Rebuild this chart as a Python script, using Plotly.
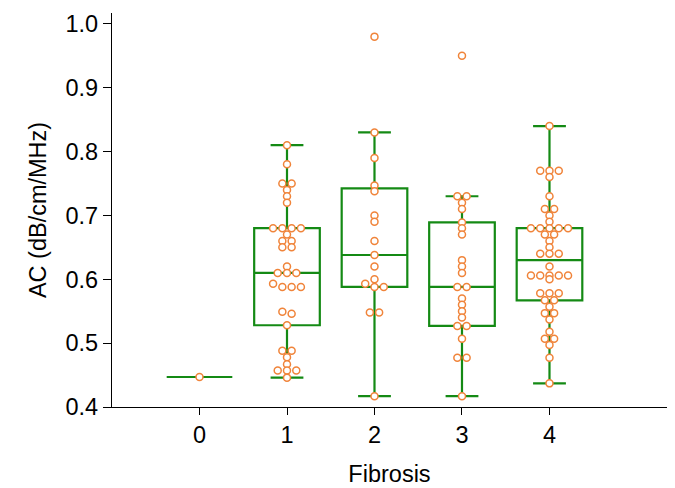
import numpy as np
import plotly.graph_objects as go

# ---- data ----
categories = [0, 1, 2, 3, 4]
tick_labels = ["0", "1", "2", "3", "4"]

fib0 = [0.447]
fib1 = [0.81, 0.78, 0.75, 0.75, 0.74, 0.73, 0.72,
        0.68, 0.68, 0.68, 0.68, 0.67, 0.66, 0.66, 0.65, 0.65,
        0.62, 0.61, 0.61, 0.61, 0.593, 0.588, 0.588, 0.588,
        0.549, 0.546, 0.528, 0.488, 0.488, 0.478, 0.467,
        0.457, 0.457, 0.457, 0.446]
fib2 = [0.98, 0.83, 0.79, 0.747, 0.738, 0.70, 0.69, 0.66, 0.638, 0.62,
        0.60, 0.593, 0.588, 0.588, 0.548, 0.548, 0.417]
fib3 = [0.95, 0.73, 0.73, 0.72, 0.71, 0.689, 0.68, 0.67, 0.63, 0.62, 0.61,
        0.588, 0.588, 0.57, 0.56, 0.55, 0.54, 0.527, 0.527, 0.507,
        0.477, 0.477, 0.417]
fib4 = [0.84, 0.77, 0.77, 0.77, 0.76, 0.73, 0.71, 0.71, 0.70, 0.69,
        0.68, 0.68, 0.68, 0.68, 0.68, 0.67, 0.67, 0.66, 0.65,
        0.64, 0.64, 0.64, 0.62, 0.606, 0.606, 0.606, 0.606, 0.606,
        0.60, 0.578, 0.578, 0.578, 0.567, 0.567, 0.557, 0.547, 0.547,
        0.537, 0.518, 0.507, 0.507, 0.497, 0.477, 0.437]
groups = [fib0, fib1, fib2, fib3, fib4]

y_ticks = [0.4, 0.5, 0.6, 0.7, 0.8, 0.9, 1.0]
y_tick_labels = ["0.4", "0.5", "0.6", "0.7", "0.8", "0.9", "1.0"]

# ---- style ----
GREEN = "#148A14"
ORANGE = "#F0843A"
FONT = "Liberation Sans, Arial, Helvetica, sans-serif"
FS = 23.5
BOX_W = 0.75
DOT_STEP = 0.106  # horizontal spread for tied values (category units)


def box_stats(values):
    a = np.sort(np.asarray(values, dtype=float))
    q1, med, q3 = np.percentile(a, [25, 50, 75], method="weibull")
    iqr = q3 - q1
    lo = a[a >= q1 - 1.5 * iqr].min()
    hi = a[a <= q3 + 1.5 * iqr].max()
    return q1, med, q3, lo, hi


def spread(values):
    bins = {}
    for i, v in enumerate(values):
        bins.setdefault(int(round(v * 100)), []).append(i)
    off = [0.0] * len(values)
    for idx in bins.values():
        k = len(idx)
        for j, i in enumerate(idx):
            off[i] = (j - (k - 1) / 2) * DOT_STEP
    return off


fig = go.Figure()
for cat, vals in zip(categories, groups):
    q1, med, q3, lo, hi = box_stats(vals)
    fig.add_trace(go.Box(
        x=[cat], q1=[q1], median=[med], q3=[q3],
        lowerfence=[lo], upperfence=[hi],
        width=BOX_W, whiskerwidth=0.5, boxpoints=False,
        line=dict(color=GREEN, width=2.2),
        fillcolor="rgba(0,0,0,0)", showlegend=False, hoverinfo="skip"))

for cat, vals in zip(categories, groups):
    off = spread(vals)
    fig.add_trace(go.Scatter(
        x=[cat + o for o in off], y=vals, mode="markers",
        marker=dict(symbol="circle", size=7, color="white",
                    line=dict(color=ORANGE, width=1.5)),
        showlegend=False, cliponaxis=False))

axis_common = dict(showline=True, linecolor="black", linewidth=1.3,
                   ticks="outside", tickcolor="black", tickwidth=1.3,
                   showgrid=False, zeroline=False, automargin=False,
                   tickfont=dict(family=FONT, size=FS, color="black"))

# the page body adds an 8px offset, so the figure is sized to the remaining area
fig.update_layout(
    width=667, height=480,
    margin=dict(l=104, r=8, t=5, b=81),
    paper_bgcolor="white", plot_bgcolor="white",
    font=dict(family=FONT, color="black"),
    xaxis=dict(range=[-1.0, 5.343], tickvals=categories, ticktext=tick_labels,
               ticklen=7,
               title=dict(text="Fibrosis", font=dict(family=FONT, size=FS),
                          standoff=18),
               **axis_common),
    yaxis=dict(range=[0.4, 1.017], tickvals=y_ticks, ticktext=y_tick_labels,
               ticklen=8,
               title=dict(text="AC (dB/cm/MHz)", font=dict(family=FONT, size=FS),
                          standoff=12),
               **axis_common),
)

fig.write_html("out.html")
